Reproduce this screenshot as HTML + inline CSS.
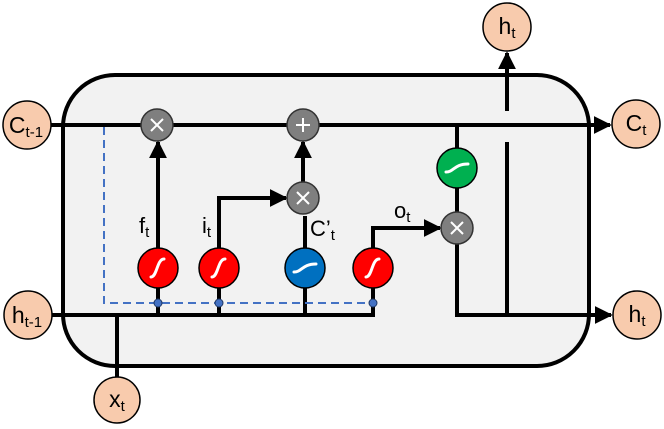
<!DOCTYPE html><html><head><style>body{margin:0;background:#fff}svg{display:block}text{font-family:"Liberation Sans",sans-serif}</style></head><body>
<svg width="664" height="429" viewBox="0 0 664 429">
<defs>
<marker id="b" viewBox="0 0 10 10" refX="9" refY="5" markerWidth="18" markerHeight="18" markerUnits="userSpaceOnUse" orient="auto"><path d="M0,0L10,5L0,10z" fill="#000"/></marker></defs>
<rect x="63" y="75" width="526" height="291" rx="52" fill="#f2f2f2" stroke="#000" stroke-width="4"/>
<g stroke="#000" stroke-width="4" fill="none">
<line x1="50" y1="125" x2="610" y2="125" marker-end="url(#b)"/>
<line x1="52" y1="315" x2="375" y2="315"/>
<line x1="373" y1="315" x2="373" y2="280"/>
<line x1="117" y1="315" x2="117" y2="378"/>
<line x1="158" y1="315" x2="158" y2="142" marker-end="url(#b)"/>
<polyline points="219,315 219,198 286,198" marker-end="url(#b)"/>
<line x1="305" y1="315" x2="305" y2="216"/>
<line x1="303" y1="182" x2="303" y2="142" marker-end="url(#b)"/>
<polyline points="373,268 373,228 440,228" marker-end="url(#b)"/>
<polyline points="457,125 457,315 611,315" marker-end="url(#b)"/>
<line x1="507" y1="315" x2="507" y2="142"/>
<line x1="507" y1="111" x2="507" y2="53" marker-end="url(#b)"/>
</g>
<polyline points="104,127 104,303 373,303" fill="none" stroke="#4472c4" stroke-width="2" stroke-dasharray="8,5"/>
<g fill="#4472c4" stroke="#1f3864" stroke-width="1"><circle cx="158" cy="303" r="4"/><circle cx="219" cy="303" r="4"/><circle cx="373" cy="303" r="4"/></g>
<g fill="#7f7f7f" stroke="#333" stroke-width="1.5">
<circle cx="157" cy="125" r="16"/><circle cx="303" cy="125" r="16"/><circle cx="303" cy="198" r="16"/><circle cx="457" cy="228" r="16"/></g>
<g stroke="#fff" stroke-width="2"><path d="M151,119l12,12M163,119l-12,12M297,192l12,12M309,192l-12,12M451,222l12,12M463,222l-12,12M296,125h14M303,118v14"/></g>
<g stroke="#000" stroke-width="1.5"><circle cx="158" cy="268" r="20" fill="#f00"/><circle cx="219" cy="268" r="20" fill="#f00"/><circle cx="373" cy="268" r="20" fill="#f00"/><circle cx="305" cy="268" r="20" fill="#0070c0"/><circle cx="457" cy="168" r="20" fill="#00b050"/></g>
<g stroke="#fff" stroke-width="3" fill="none" stroke-linecap="round"><path d="M151,277c6,0 6,-18 13,-18M212,277c6,0 6,-18 13,-18M366,277c6,0 6,-18 13,-18M294,272c8,0 8,-8 22,-8M446,172c8,0 8,-8 22,-8"/></g>
<g fill="#f8cbad" stroke="#000" stroke-width="1.5"><circle cx="27" cy="125" r="24"/><circle cx="28" cy="315" r="24"/><circle cx="117" cy="400" r="23"/><circle cx="507" cy="27" r="24"/><circle cx="636" cy="124" r="24"/><circle cx="637" cy="315" r="24"/></g>
<g font-size="23" text-anchor="middle">
<text x="26" y="133">C<tspan font-size="15" dy="4">t-1</tspan></text>
<text x="27" y="323">h<tspan font-size="15" dy="4">t-1</tspan></text>
<text x="117" y="407">x<tspan font-size="15" dy="4">t</tspan></text>
<text x="507" y="34">h<tspan font-size="15" dy="4">t</tspan></text>
<text x="636" y="131">C<tspan font-size="15" dy="4">t</tspan></text>
<text x="637" y="322">h<tspan font-size="15" dy="4">t</tspan></text>
</g>
<g font-size="22">
<text x="139" y="233">f<tspan font-size="15" dy="4">t</tspan></text>
<text x="202" y="233">i<tspan font-size="15" dy="4">t</tspan></text>
<text x="310" y="236">C’<tspan font-size="15" dy="4">t</tspan></text>
<text x="394" y="218">o<tspan font-size="15" dy="4">t</tspan></text>
</g>
</svg></body></html>
